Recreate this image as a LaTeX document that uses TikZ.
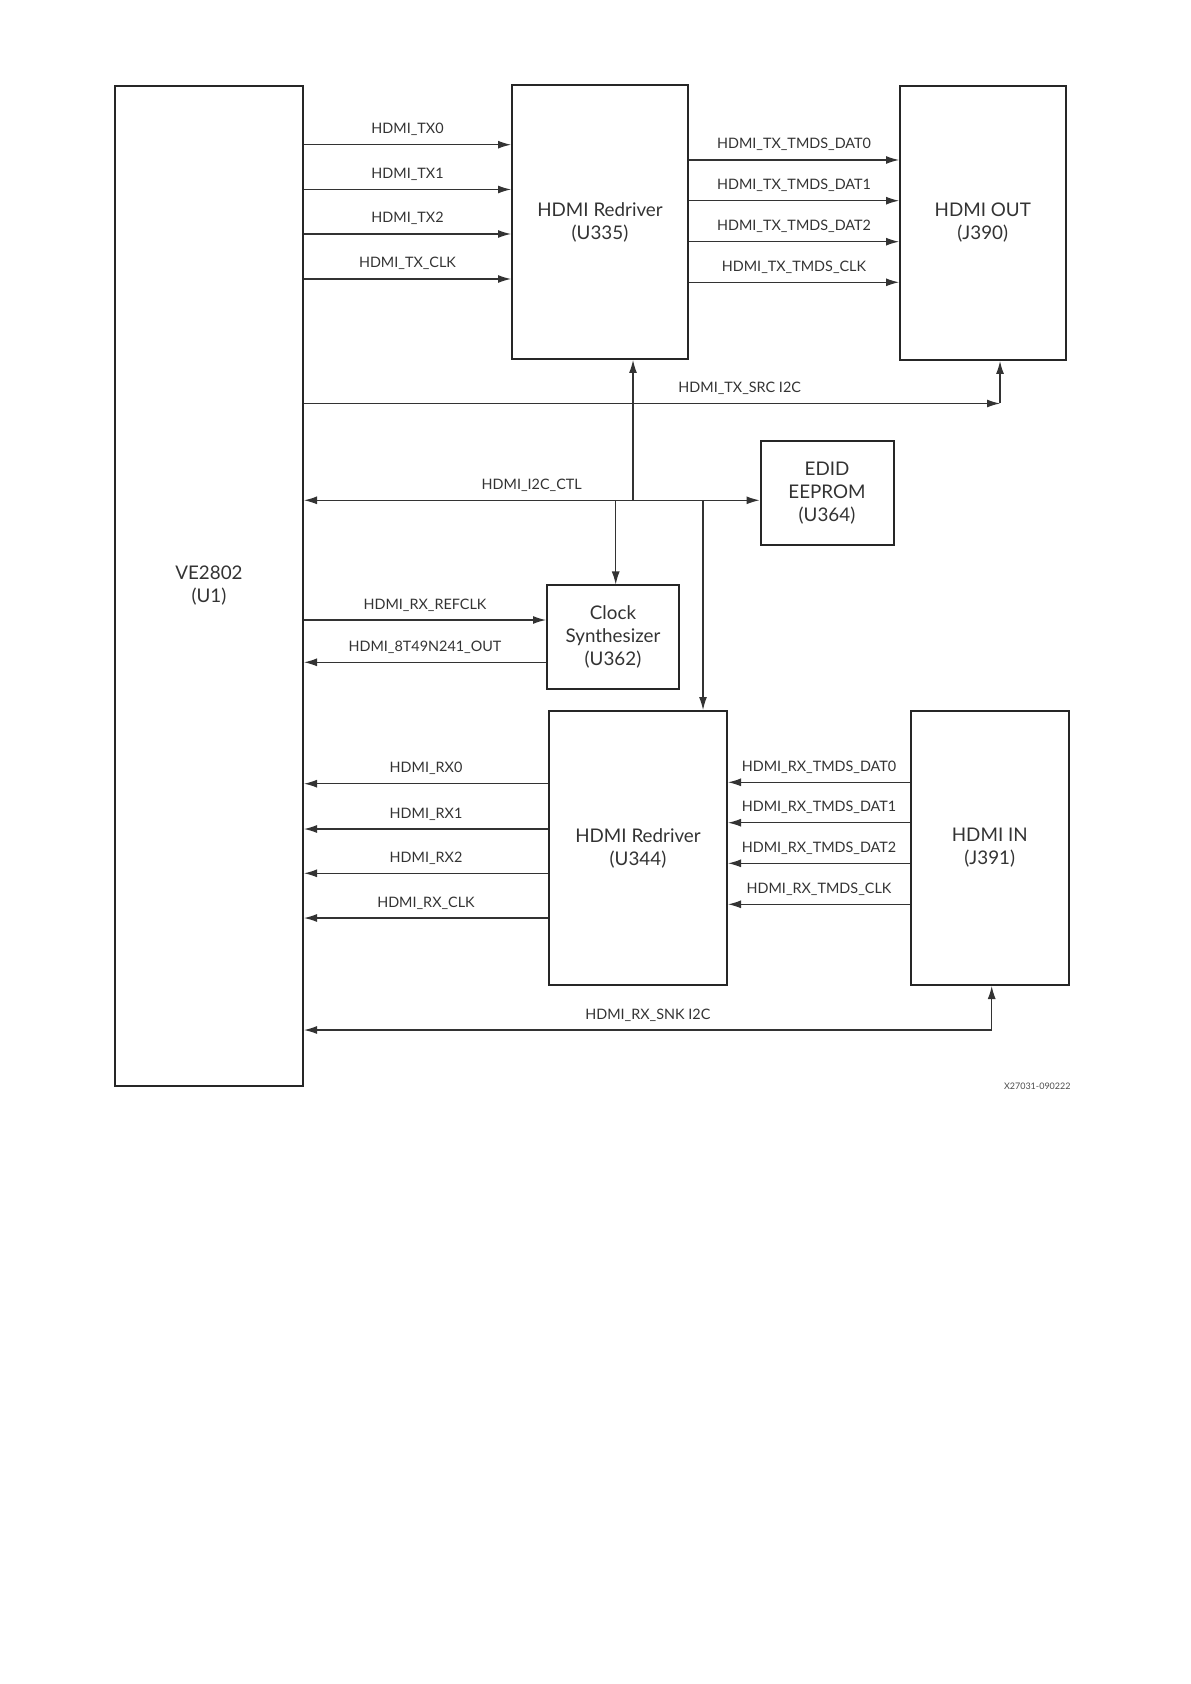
\documentclass[tikz,border=0pt]{standalone}
\usepackage{fontspec}
\setmainfont{Lato}
\usetikzlibrary{arrows.meta}
\begin{document}
\begin{tikzpicture}[x=0.5pt,y=-0.5pt,
  box/.style={draw=black!85, line width=1pt, align=center, font=\fontsize{9.4}{11.5}\selectfont, text=black!80, inner sep=0pt},
  sig/.style={draw=black!80, line width=0.6pt},
  lbl/.style={font=\fontsize{7.2}{9}\selectfont, text=black!80, anchor=base, inner sep=0pt, yshift=5.5pt},
  >={Latex[length=6.5pt,width=4pt]}]
\useasboundingbox (0,0) rectangle (1190,1684);
% boxes
\node[box, minimum width=94pt, minimum height=500pt] (ve) at (209,586) {VE2802\\(U1)};
\node[box, minimum width=88pt, minimum height=137pt] (u335) at (600,222) {HDMI Redriver\\(U335)};
\node[box, minimum width=82.75pt, minimum height=137pt] (j390) at (982.75,223) {HDMI OUT\\(J390)};
\node[box, minimum width=66.5pt, minimum height=52pt] (edid) at (827,493.4) {EDID\\EEPROM\\(U364)};
\node[box, minimum width=66pt, minimum height=51.75pt] (clk) at (613,637.2) {Clock\\Synthesizer\\(U362)};
\node[box, minimum width=89pt, minimum height=137pt] (u344) at (638,848) {HDMI Redriver\\(U344)};
\node[box, minimum width=78.75pt, minimum height=137pt] (j391) at (989.75,848) {HDMI IN\\(J391)};
% row coordinates
\coordinate (tx0) at (0,144.7);
\coordinate (tx1) at (0,189.5);
\coordinate (tx2) at (0,234);
\coordinate (txc) at (0,279);
\coordinate (tm0) at (0,160);
\coordinate (tm1) at (0,200.7);
\coordinate (tm2) at (0,241.7);
\coordinate (tmc) at (0,282.3);
\coordinate (ref) at (0,620);
\coordinate (out) at (0,662.3);
\coordinate (rx0) at (0,783.7);
\coordinate (rx1) at (0,829);
\coordinate (rx2) at (0,873.3);
\coordinate (rxc) at (0,918);
\coordinate (rm0) at (0,782.3);
\coordinate (rm1) at (0,822.7);
\coordinate (rm2) at (0,863.3);
\coordinate (rmc) at (0,904.3);
\coordinate (srcc) at (1000,403.5);
\coordinate (i2cu) at (633,500.3);
\coordinate (i2cc) at (615.7,500.3);
\coordinate (i2cd) at (703,500.3);
\coordinate (snkc) at (991.7,1030);
% TX side
\draw[sig,->] (ve.east |- tx0) -- node[lbl]{HDMI\_TX0} (u335.west |- tx0);
\draw[sig,->] (ve.east |- tx1) -- node[lbl]{HDMI\_TX1} (u335.west |- tx1);
\draw[sig,->] (ve.east |- tx2) -- node[lbl]{HDMI\_TX2} (u335.west |- tx2);
\draw[sig,->] (ve.east |- txc) -- node[lbl]{HDMI\_TX\_CLK} (u335.west |- txc);
\draw[sig,->] (u335.east |- tm0) -- node[lbl]{HDMI\_TX\_TMDS\_DAT0} (j390.west |- tm0);
\draw[sig,->] (u335.east |- tm1) -- node[lbl]{HDMI\_TX\_TMDS\_DAT1} (j390.west |- tm1);
\draw[sig,->] (u335.east |- tm2) -- node[lbl]{HDMI\_TX\_TMDS\_DAT2} (j390.west |- tm2);
\draw[sig,->] (u335.east |- tmc) -- node[lbl]{HDMI\_TX\_TMDS\_CLK} (j390.west |- tmc);
% TX SRC I2C
\draw[sig,->] (ve.east |- srcc) -- node[lbl, pos=0.626]{HDMI\_TX\_SRC I2C} (srcc);
\draw[sig,->] (srcc) -- (srcc |- j390.south);
% I2C CTL
\draw[sig,<->] (ve.east |- i2cu) -- node[lbl]{HDMI\_I2C\_CTL} (edid.west |- i2cu);
\draw[sig,->] (i2cu) -- (i2cu |- u335.south);
\draw[sig,->] (i2cc) -- (i2cc |- clk.north);
\draw[sig,->] (i2cd) -- (i2cd |- u344.north);
% clock synth
\draw[sig,->] (ve.east |- ref) -- node[lbl]{HDMI\_RX\_REFCLK} (clk.west |- ref);
\draw[sig,->] (clk.west |- out) -- node[lbl]{HDMI\_8T49N241\_OUT} (ve.east |- out);
% RX side
\draw[sig,->] (u344.west |- rx0) -- node[lbl]{HDMI\_RX0} (ve.east |- rx0);
\draw[sig,->] (u344.west |- rx1) -- node[lbl]{HDMI\_RX1} (ve.east |- rx1);
\draw[sig,->] (u344.west |- rx2) -- node[lbl]{HDMI\_RX2} (ve.east |- rx2);
\draw[sig,->] (u344.west |- rxc) -- node[lbl]{HDMI\_RX\_CLK} (ve.east |- rxc);
\draw[sig,->] (j391.west |- rm0) -- node[lbl]{HDMI\_RX\_TMDS\_DAT0} (u344.east |- rm0);
\draw[sig,->] (j391.west |- rm1) -- node[lbl]{HDMI\_RX\_TMDS\_DAT1} (u344.east |- rm1);
\draw[sig,->] (j391.west |- rm2) -- node[lbl]{HDMI\_RX\_TMDS\_DAT2} (u344.east |- rm2);
\draw[sig,->] (j391.west |- rmc) -- node[lbl]{HDMI\_RX\_TMDS\_CLK} (u344.east |- rmc);
% RX SNK I2C
\draw[sig,->] (snkc) -- (snkc |- j391.south);
\draw[sig,->] (snkc) -- node[lbl]{HDMI\_RX\_SNK I2C} (ve.east |- snkc);
% figure id
\node[font=\fontsize{4.5}{5}\selectfont, text=black!70, anchor=base east, inner sep=0pt] (figid) at (1071,1089) {X27031-090222};
\end{tikzpicture}
\end{document}
